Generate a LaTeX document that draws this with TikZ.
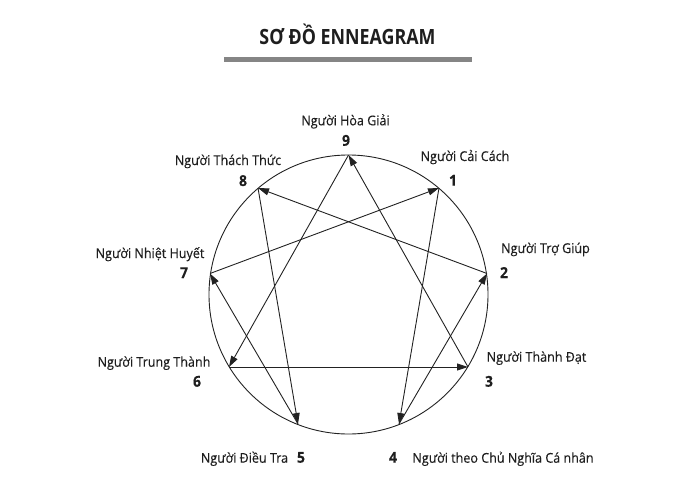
\documentclass[tikz,border=0pt]{standalone}
\usepackage{fontspec}
\setmainfont{Open Sans}[FakeStretch=0.93,FakeBold=0.25,BoldFont={Open Sans Bold},BoldFeatures={FakeStretch=0.93}]
\newfontfamily\titlefont{Open Sans}[FakeStretch=0.85,BoldFont={Open Sans Bold},BoldFeatures={FakeStretch=0.85}]
\usetikzlibrary{arrows.meta}
\definecolor{txt}{HTML}{1E1E1E}
\definecolor{ln}{HTML}{222222}
\definecolor{bar}{HTML}{858585}
\begin{document}
\begin{tikzpicture}[x=1pt,y=-1pt,
  lbl/.style={anchor=base,inner sep=0pt,text=txt,font=\fontsize{13.5}{14}\selectfont},
  num/.style={anchor=base,inner sep=0pt,text=txt,font=\fontsize{15}{16}\selectfont\bfseries},
  arr/.style={draw=ln,line width=0.9pt,-{Triangle[length=11pt,width=7pt]}},
  ring/.style={draw=ln,line width=0.9pt}]
\useasboundingbox (0,0) rectangle (700,503);
% title
\node[anchor=base,inner sep=0pt,text=txt,font=\titlefont\fontsize{21}{22}\selectfont\bfseries] (title) at (347.5,45) {SƠ ĐỒ ENNEAGRAM};
\fill[bar] (224,57) rectangle (472,62);
% circle
\coordinate (c) at (348.5,294.5);
\draw[ring] (c) circle[radius=139.5pt];
% points
\coordinate (p9) at (348.5,155);
\coordinate (p1) at (439,188);
\coordinate (p2) at (487,273.5);
\coordinate (p3) at (468,367);
\coordinate (p4) at (399,424);
\coordinate (p5) at (298,424);
\coordinate (p6) at (229,367);
\coordinate (p7) at (210,273.5);
\coordinate (p8) at (258,188);
% arrows
\draw[arr] (p9) -- (p6);
\draw[arr] (p6) -- (p3);
\draw[arr] (p3) -- (p9);
\draw[arr] (p1) -- (p4);
\draw[arr] (p4) -- (p2);
\draw[arr] (p2) -- (p8);
\draw[arr] (p8) -- (p5);
\draw[arr] (p5) -- (p7);
\draw[arr] (p7) -- (p1);
% labels
\node[lbl] (l9) at (345.5,125.3) {Người Hòa Giải};
\node[num] (n9) at (346,145.7) {9};
\node[lbl] (l8) at (228,165) {Người Thách Thức};
\node[num] (n8) at (243,186) {8};
\node[lbl] (l1) at (465,161) {Người Cải Cách};
\node[num] (n1) at (453,185.7) {1};
\node[lbl] (l2) at (545.5,253) {Người Trợ Giúp};
\node[num] (n2) at (504,278) {2};
\node[lbl] (l7) at (150,258) {Người Nhiệt Huyết};
\node[num] (n7) at (184,278) {7};
\node[lbl] (l6) at (154,366.7) {Người Trung Thành};
\node[num] (n6) at (197,386.7) {6};
\node[lbl] (l3) at (536.5,361.7) {Người Thành Đạt};
\node[num] (n3) at (489,386.7) {3};
\node[lbl] (l5) at (244.5,462.7) {Người Điều Tra};
\node[num] (n5) at (301,462.7) {5};
\node[num] (n4) at (393,462.7) {4};
\node[lbl] (l4) at (503,462.7) {Người theo Chủ Nghĩa Cá nhân};
\end{tikzpicture}
\end{document}
